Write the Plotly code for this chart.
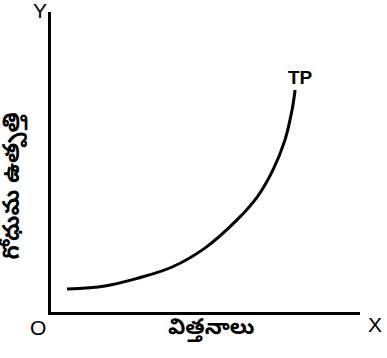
import plotly.graph_objects as go

# Total product (TP) curve: wheat output against seeds used
seeds = [0.52, 1.75, 2.82, 3.92, 4.98, 6.02, 6.67, 7.18, 7.57, 7.80, 7.90]
output = [0.77, 0.87, 1.13, 1.50, 2.13, 3.07, 3.83, 4.73, 5.73, 6.73, 7.40]

curve_label = "TP"
x_title = "విత్తనాలు"
y_title = "గోధుమ ఉత్పత్తి"

fig = go.Figure()
fig.add_trace(go.Scatter(
    x=seeds, y=output, mode="lines",
    line=dict(color="black", width=3, shape="spline", smoothing=1.0),
    hoverinfo="skip", showlegend=False,
))

font = "Liberation Sans, Arial, sans-serif"
telugu = "Noto Sans Telugu, Noto Sans, sans-serif"

fig.add_annotation(x=seeds[-1], y=output[-1], text=f"<b>{curve_label}</b>",
                   showarrow=False, xanchor="center", yanchor="bottom",
                   xshift=5, yshift=0, font=dict(size=19, color="black", family=font))
# axis end letters and origin
fig.add_annotation(x=0, y=10, text="Y", showarrow=False, xanchor="right", yanchor="middle",
                   xshift=-2, yshift=2, font=dict(size=21, color="black", family=font))
fig.add_annotation(x=10, y=0, text="X", showarrow=False, xanchor="left", yanchor="middle",
                   xshift=6, yshift=-12, font=dict(size=21, color="black", family=font))
fig.add_annotation(x=0, y=0, text="O", showarrow=False, xanchor="right", yanchor="top",
                   xshift=-3, yshift=-2, font=dict(size=21, color="black", family=font))
# axis titles
fig.add_annotation(x=5.17, y=0, text=f"<b>{x_title}</b>", showarrow=False,
                   xanchor="center", yanchor="top", yshift=-1,
                   font=dict(size=22, color="black", family=telugu))
fig.add_annotation(x=0, y=4.2, text=f"<b>{y_title}</b>", showarrow=False, textangle=-90,
                   xanchor="right", yanchor="middle", xshift=-20,
                   font=dict(size=23, color="black", family=telugu))

axis_common = dict(showgrid=False, zeroline=False, showticklabels=False, ticks="",
                   showline=True, linecolor="black", linewidth=3, fixedrange=True)
fig.update_xaxes(range=[0, 10], **axis_common)
fig.update_yaxes(range=[0, 10], **axis_common)

fig.update_layout(
    width=387, height=358,
    margin=dict(l=51, r=27, t=12, b=46),
    plot_bgcolor="white", paper_bgcolor="white",
)

fig.write_html("out.html", config={"displayModeBar": False})
